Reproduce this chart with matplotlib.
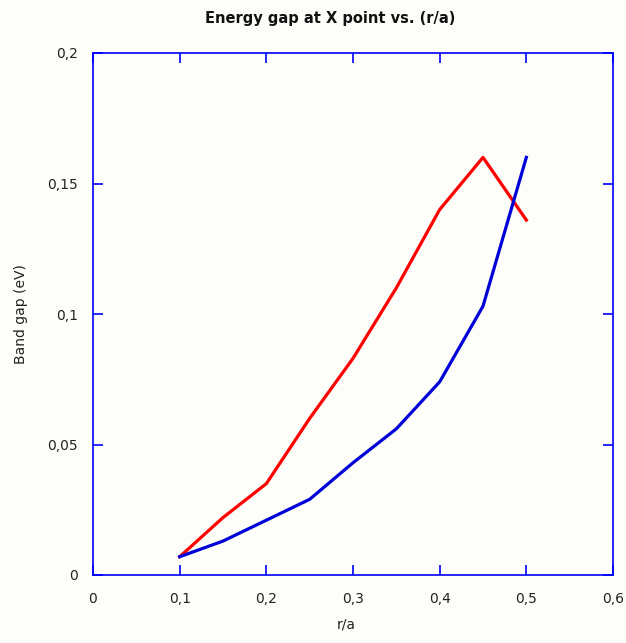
import matplotlib
matplotlib.use("Agg")
import matplotlib.pyplot as plt
from matplotlib.ticker import FuncFormatter

# r/a values and band gaps (eV)
r_over_a = [0.1, 0.15, 0.2, 0.25, 0.3, 0.35, 0.4, 0.45, 0.5]
gap_red = [0.007, 0.022, 0.035, 0.060, 0.083, 0.110, 0.140, 0.160, 0.136]
gap_blue = [0.007, 0.013, 0.021, 0.029, 0.043, 0.056, 0.074, 0.103, 0.160]

x_ticks = [0, 0.1, 0.2, 0.3, 0.4, 0.5, 0.6]
y_ticks = [0, 0.05, 0.1, 0.15, 0.2]

plt.rcParams['font.family'] = ['DejaVu Sans']

W, H = 626, 643
fig = plt.figure(figsize=(W / 100, H / 100), dpi=100, facecolor='#fdfdf9')
ax = fig.add_axes([93 / W, 1 - 575 / H, (613 - 93) / W, (575 - 53) / H])
ax.set_facecolor('#fdfdf9')

ax.plot(r_over_a, gap_red, color='#ff0000', lw=2.3)
ax.plot(r_over_a, gap_blue, color='#0000d8', lw=2.3)

ax.set_xlim(0, 0.6)
ax.set_ylim(0, 0.2)
ax.set_xticks(x_ticks)
ax.set_yticks(y_ticks)

# decimal comma like the original
comma = FuncFormatter(lambda v, pos: ('%g' % round(v, 3)).replace('.', ','))
ax.xaxis.set_major_formatter(comma)
ax.yaxis.set_major_formatter(comma)

for s in ax.spines.values():
    s.set_color('#0000ff')
    s.set_linewidth(1.2)
ax.tick_params(direction='in', colors='#0000ff', length=7, width=1.2,
               top=True, right=True, labelcolor='#222222', labelsize=10)
ax.tick_params(axis='x', pad=12)
ax.tick_params(axis='y', pad=11)

# title sits a bit left of the axes centre in the original
fig.text(330 / W, 1 - 18 / H, 'Energy gap at X point vs. (r/a)', fontsize=10.5,
         fontweight='bold', ha='center', va='center', color='#111111')
ax.set_xlabel('r/a', fontsize=10, labelpad=12, color='#222222')
ax.xaxis.set_label_coords(346 / (613 - 93) - 93 / (613 - 93), -50 / (575 - 53))
ax.xaxis.label.set_va('center')
ax.set_ylabel('Band gap (eV)', fontsize=10, color='#222222')
ax.yaxis.set_label_coords(-(93 - 21) / (613 - 93), 0.5)
ax.yaxis.label.set_va('center')

fig.savefig('out.png', dpi=100, facecolor=fig.get_facecolor())
